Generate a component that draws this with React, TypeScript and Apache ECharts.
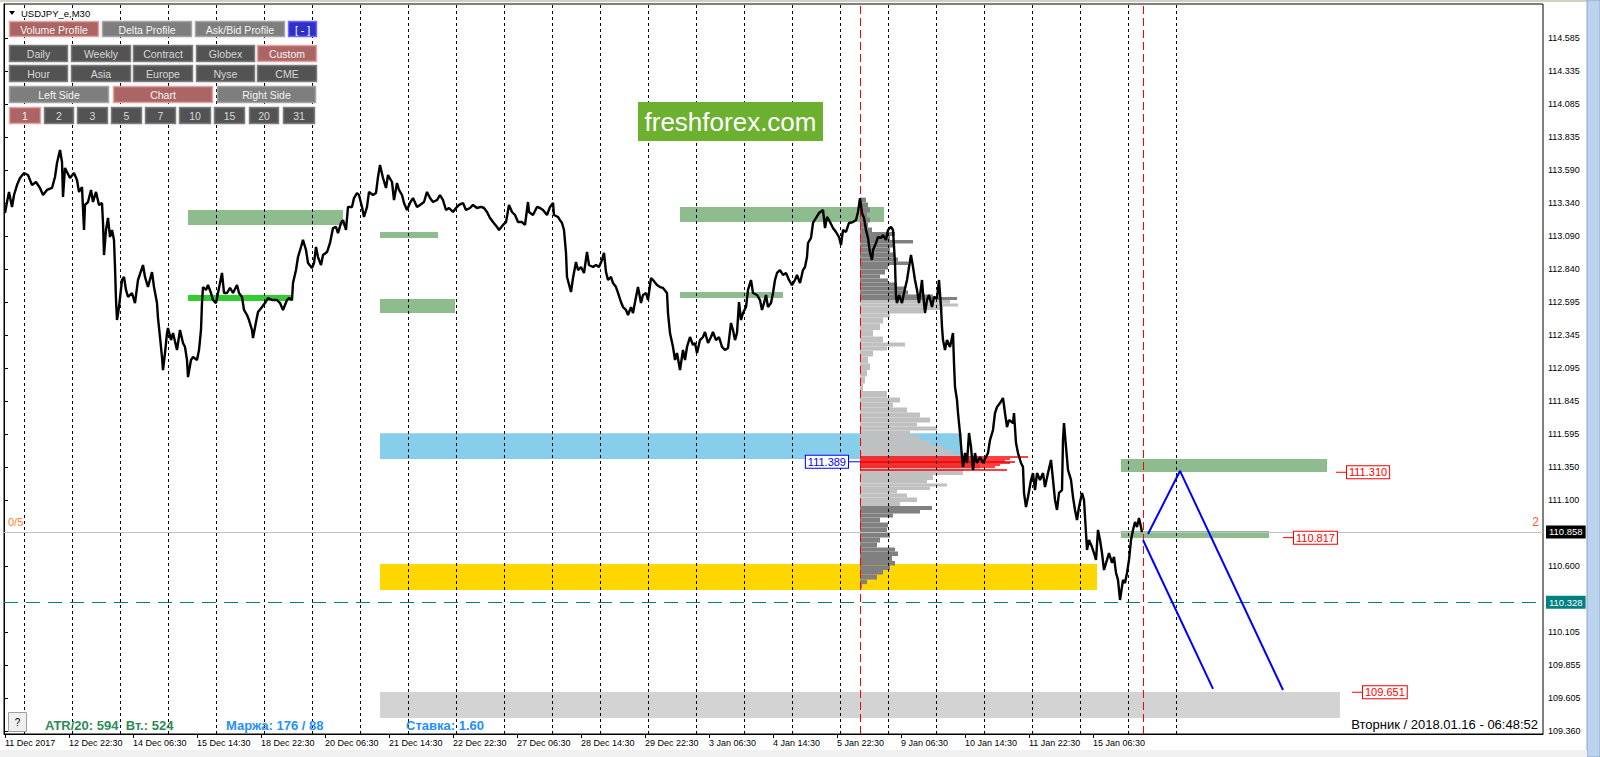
import React, { useEffect, useRef } from 'react';
import * as echarts from 'echarts';

// ---------- data ----------
const xLabels = ['11 Dec 2017', '12 Dec 22:30', '14 Dec 06:30', '15 Dec 14:30', '18 Dec 22:30', '20 Dec 06:30', '21 Dec 14:30', '22 Dec 22:30', '27 Dec 06:30', '28 Dec 14:30', '29 Dec 22:30', '3 Jan 06:30', '4 Jan 14:30', '5 Jan 22:30', '9 Jan 06:30', '10 Jan 14:30', '11 Jan 22:30', '15 Jan 06:30'];
const xLabelBars = [1, 65, 129, 193, 257, 321, 385, 449, 513, 577, 641, 705, 769, 833, 897, 961, 1025, 1089];
const separatorBars = [20, 68, 116, 164, 212, 260, 308, 356, 404, 452, 500, 548, 596, 644, 692, 740, 788, 836, 884, 932, 980, 1028, 1076, 1124, 1172];
const sessionBars = [856, 1139];
const yTicks = [114.585, 114.335, 114.085, 113.835, 113.59, 113.34, 113.09, 112.84, 112.595, 112.345, 112.095, 111.845, 111.595, 111.35, 111.1, 110.6, 110.105, 109.855, 109.605, 109.36];
const yMin = 109.3362;
const yMax = 114.8414;

const priceBars = [1, 3, 5, 8, 10, 13, 16, 20, 24, 28, 32, 36, 39, 43, 48, 51, 53, 56, 58, 59, 61, 66, 70, 73, 75, 78, 79, 80, 81, 84, 87, 89, 92, 95, 98, 99, 100, 102, 104, 106, 108, 110, 111, 112, 113, 115, 118, 120, 122, 124, 128, 131, 134, 139, 141, 144, 148, 150, 153, 154, 156, 158, 159, 161, 163, 164, 167, 169, 173, 176, 179, 181, 183, 184, 187, 189, 193, 195, 197, 198, 199, 202, 204, 207, 209, 212, 214, 216, 218, 220, 223, 226, 229, 233, 235, 238, 240, 243, 245, 248, 249, 252, 254, 258, 261, 264, 268, 273, 276, 279, 283, 285, 288, 289, 292, 294, 297, 299, 302, 304, 308, 310, 312, 314, 317, 319, 323, 326, 329, 332, 334, 337, 339, 342, 344, 348, 350, 353, 355, 358, 360, 363, 365, 369, 372, 374, 376, 379, 382, 384, 388, 390, 393, 395, 398, 400, 403, 406, 409, 413, 416, 420, 423, 426, 429, 433, 436, 439, 442, 445, 449, 452, 455, 459, 462, 466, 469, 473, 477, 480, 483, 486, 489, 493, 495, 499, 502, 505, 508, 511, 514, 518, 521, 524, 525, 529, 533, 536, 539, 543, 546, 549, 550, 554, 556, 558, 560, 562, 563, 567, 569, 572, 574, 577, 580, 583, 585, 589, 592, 595, 598, 600, 602, 604, 607, 609, 612, 614, 617, 619, 622, 624, 627, 629, 632, 634, 637, 639, 642, 644, 647, 649, 653, 656, 659, 663, 664, 666, 669, 671, 673, 676, 679, 681, 683, 686, 689, 691, 693, 696, 699, 701, 704, 707, 709, 712, 715, 718, 721, 724, 727, 729, 731, 733, 735, 737, 739, 742, 744, 747, 749, 753, 756, 758, 760, 762, 764, 767, 769, 771, 773, 776, 779, 782, 785, 788, 791, 793, 796, 799, 801, 803, 804, 807, 809, 812, 815, 819, 821, 823, 825, 829, 832, 835, 837, 839, 842, 845, 849, 852, 854, 856, 858, 860, 862, 864, 866, 868, 869, 872, 874, 877, 879, 882, 884, 887, 889, 891, 892, 893, 895, 898, 900, 903, 905, 907, 909, 911, 913, 915, 918, 919, 921, 923, 925, 928, 930, 933, 935, 937, 938, 939, 941, 943, 946, 949, 950, 951, 953, 954, 956, 958, 959, 961, 963, 965, 967, 969, 971, 973, 976, 979, 982, 984, 986, 989, 991, 993, 996, 999, 1001, 1003, 1005, 1009, 1010, 1012, 1014, 1017, 1019, 1020, 1022, 1024, 1027, 1029, 1031, 1033, 1036, 1039, 1041, 1044, 1047, 1049, 1051, 1053, 1055, 1058, 1059, 1060, 1062, 1064, 1067, 1069, 1071, 1073, 1075, 1078, 1080, 1082, 1083, 1085, 1088, 1090, 1092, 1094, 1096, 1098, 1100, 1103, 1105, 1108, 1110, 1112, 1114, 1116, 1119, 1121, 1123, 1125, 1127, 1129, 1131, 1133, 1135, 1137, 1138];
const priceValues = [113.265, 113.348, 113.424, 113.311, 113.401, 113.476, 113.529, 113.567, 113.552, 113.476, 113.499, 113.454, 113.401, 113.439, 113.454, 113.537, 113.642, 113.74, 113.65, 113.386, 113.605, 113.529, 113.567, 113.514, 113.424, 113.461, 113.3, 113.137, 113.326, 113.348, 113.439, 113.348, 113.424, 113.326, 113.341, 113.19, 112.948, 113.137, 113.228, 113.084, 113.137, 113.062, 112.858, 112.609, 112.458, 112.556, 112.76, 112.783, 112.685, 112.632, 112.662, 112.586, 112.76, 112.873, 112.783, 112.707, 112.82, 112.707, 112.586, 112.473, 112.33, 112.179, 112.081, 112.209, 112.36, 112.398, 112.307, 112.36, 112.232, 112.383, 112.285, 112.255, 112.157, 112.028, 112.157, 112.179, 112.157, 112.232, 112.383, 112.586, 112.707, 112.685, 112.722, 112.662, 112.609, 112.586, 112.662, 112.737, 112.813, 112.662, 112.662, 112.7, 112.662, 112.722, 112.662, 112.632, 112.534, 112.496, 112.458, 112.383, 112.322, 112.443, 112.518, 112.556, 112.586, 112.624, 112.609, 112.609, 112.586, 112.534, 112.609, 112.624, 112.609, 112.737, 112.835, 112.933, 113.009, 113.062, 112.986, 112.888, 112.85, 112.888, 113.009, 112.933, 112.873, 112.948, 112.971, 113.039, 113.152, 113.16, 113.114, 113.19, 113.212, 113.137, 113.311, 113.311, 113.378, 113.416, 113.401, 113.311, 113.235, 113.311, 113.424, 113.401, 113.416, 113.537, 113.627, 113.529, 113.454, 113.552, 113.499, 113.363, 113.491, 113.439, 113.401, 113.341, 113.288, 113.341, 113.378, 113.311, 113.326, 113.348, 113.424, 113.378, 113.348, 113.363, 113.401, 113.363, 113.288, 113.303, 113.273, 113.303, 113.326, 113.341, 113.288, 113.303, 113.326, 113.303, 113.311, 113.303, 113.273, 113.228, 113.197, 113.16, 113.137, 113.175, 113.197, 113.326, 113.273, 113.25, 113.197, 113.197, 113.175, 113.348, 113.273, 113.25, 113.311, 113.303, 113.288, 113.25, 113.311, 113.341, 113.25, 113.235, 113.212, 113.19, 113.137, 112.964, 112.783, 112.669, 112.775, 112.896, 112.835, 112.858, 112.813, 112.971, 112.873, 112.858, 112.873, 112.858, 112.911, 112.964, 112.82, 112.76, 112.783, 112.737, 112.707, 112.662, 112.594, 112.556, 112.534, 112.496, 112.556, 112.511, 112.632, 112.707, 112.586, 112.647, 112.662, 112.609, 112.775, 112.76, 112.722, 112.707, 112.7, 112.662, 112.511, 112.36, 112.255, 112.157, 112.209, 112.081, 112.232, 112.157, 112.255, 112.33, 112.27, 112.285, 112.209, 112.307, 112.33, 112.368, 112.285, 112.33, 112.368, 112.307, 112.33, 112.255, 112.232, 112.247, 112.436, 112.383, 112.307, 112.36, 112.594, 112.458, 112.511, 112.556, 112.685, 112.76, 112.662, 112.647, 112.609, 112.534, 112.586, 112.647, 112.556, 112.586, 112.662, 112.76, 112.813, 112.835, 112.798, 112.813, 112.76, 112.722, 112.76, 112.798, 112.737, 112.835, 112.858, 112.933, 113.039, 113.077, 113.19, 113.228, 113.265, 113.288, 113.152, 113.235, 113.212, 113.152, 113.122, 113.084, 113.024, 113.137, 113.122, 113.19, 113.197, 113.212, 113.273, 113.378, 113.265, 113.228, 113.137, 113.077, 112.964, 112.911, 112.986, 113.039, 113.084, 113.077, 113.099, 113.062, 113.137, 113.16, 113.137, 112.888, 112.632, 112.586, 112.647, 112.586, 112.662, 112.76, 112.858, 112.948, 112.858, 112.76, 112.685, 112.586, 112.76, 112.662, 112.511, 112.609, 112.647, 112.556, 112.632, 112.624, 112.76, 112.556, 112.405, 112.307, 112.232, 112.307, 112.255, 112.36, 112.134, 111.953, 111.855, 111.757, 111.606, 111.425, 111.35, 111.455, 111.38, 111.606, 111.501, 111.327, 111.455, 111.38, 111.425, 111.38, 111.425, 111.455, 111.553, 111.629, 111.757, 111.802, 111.832, 111.87, 111.757, 111.651, 111.704, 111.681, 111.757, 111.531, 111.455, 111.38, 111.35, 111.154, 111.048, 111.123, 111.252, 111.304, 111.176, 111.304, 111.252, 111.304, 111.199, 111.304, 111.403, 111.252, 111.101, 111.026, 111.154, 111.176, 111.553, 111.681, 111.501, 111.327, 111.252, 111.123, 111.026, 110.95, 111.048, 111.154, 111.101, 110.852, 110.724, 110.799, 110.746, 110.701, 110.649, 110.875, 110.799, 110.701, 110.573, 110.649, 110.701, 110.626, 110.671, 110.551, 110.498, 110.347, 110.498, 110.475, 110.551, 110.649, 110.799, 110.875, 110.935, 110.897, 110.965, 110.897, 110.858];

const currentPrice = 110.858;
const supportPrice = 110.328;

const profileStartBar = 856;
const profilePrices = [113.363, 113.326, 113.288, 113.25, 113.212, 113.175, 113.137, 113.107, 113.077, 113.047, 113.024, 112.986, 112.948, 112.911, 112.888, 112.858, 112.82, 112.783, 112.76, 112.722, 112.7, 112.662, 112.639, 112.624, 112.594, 112.571, 112.549, 112.518, 112.496, 112.458, 112.405, 112.36, 112.307, 112.27, 112.247, 112.209, 112.157, 112.104, 112.058, 112.006, 111.953, 111.893, 111.855, 111.817, 111.78, 111.742, 111.704, 111.666, 111.644, 111.606, 111.568, 111.531, 111.493, 111.463, 111.425, 111.387, 111.35, 111.312, 111.267, 111.237, 111.214, 111.191, 111.161, 111.139, 111.101, 111.071, 111.041, 111.01, 110.987, 110.95, 110.912, 110.875, 110.837, 110.799, 110.761, 110.724, 110.701, 110.656, 110.626, 110.588, 110.558, 110.52, 110.482, 110.451];
const profileVolumes = [6, 8, 10, 7, 10, 8, 12, 35, 30, 53, 33, 30, 35, 38, 48, 28, 25, 20, 28, 37, 45, 48, 73, 97, 90, 98, 83, 63, 30, 23, 20, 13, 23, 45, 27, 13, 8, 10, 7, 5, 3, 27, 40, 33, 47, 60, 70, 57, 77, 50, 60, 70, 83, 93, 103, 115, 120, 103, 73, 67, 87, 70, 37, 47, 57, 40, 72, 60, 33, 20, 28, 27, 30, 20, 17, 35, 38, 32, 35, 30, 23, 17, 7, 2];
const valueAreaHigh = 112.602;
const valueAreaLow = 111.048;
const pocPrices = [111.425, 111.41, 111.395, 111.387, 111.38, 111.365, 111.35, 111.327];
const pocVolumes = [168, 150, 145, 155, 150, 140, 135, 147];
const pocLabelPrice = 111.389;

const greenZoneStart = [184, 376, 376, 676, 676, 1117, 1117];
const greenZoneEnd = [339, 434, 451, 880, 779, 1323, 1265];
const greenZoneTop = [113.288, 113.122, 112.617, 113.311, 112.669, 111.41, 110.867];
const greenZoneBottom = [113.175, 113.077, 112.511, 113.197, 112.624, 111.312, 110.814];
const limeZone = [184, 289, 112.647, 112.602];
const blueZone = [376, 958, 111.605, 111.41];
const goldZone = [376, 1093, 110.618, 110.422];
const grayZone = [376, 1336, 109.653, 109.457];

const projABars = [1144, 1176, 1279];
const projAPrices = [110.844, 111.32, 109.668];
const projBBars = [1139, 1209];
const projBPrices = [110.799, 109.676];

const tagBars = [1332, 1279, 1348];
const tagPrices = [111.31, 110.817, 109.651];

// ---------- UI layout ----------
const FONT = 'Liberation Sans, Arial, sans-serif';
type Btn = [string, number, number, number, number, string];
const buttons: Btn[] = [
  ['Volume Profile', 9, 21, 99, 37, 'on'], ['Delta Profile', 102, 21, 192, 37, 'gray'], ['Ask/Bid Profile', 195, 21, 285, 37, 'gray'], ['[ - ]', 288, 21, 317, 37, 'blue'],
  ['Daily', 9, 45, 68, 62, 'dark'], ['Weekly', 71, 45, 131, 62, 'dark'], ['Contract', 133, 45, 193, 62, 'dark'], ['Globex', 196, 45, 255, 62, 'dark'], ['Custom', 257, 45, 317, 62, 'on'],
  ['Hour', 9, 65, 68, 82, 'dark'], ['Asia', 71, 65, 131, 82, 'dark'], ['Europe', 133, 65, 193, 82, 'dark'], ['Nyse', 196, 65, 255, 82, 'dark'], ['CME', 257, 65, 317, 82, 'dark'],
  ['Left Side', 9, 86, 109, 103, 'gray'], ['Chart', 113, 86, 213, 103, 'on'], ['Right Side', 217, 86, 316, 103, 'gray'],
  ['1', 9, 107, 41, 124, 'on'], ['2', 44, 107, 74, 124, 'dark'], ['3', 77, 107, 108, 124, 'dark'], ['5', 111, 107, 142, 124, 'dark'], ['7', 145, 107, 176, 124, 'dark'], ['10', 179, 107, 211, 124, 'dark'], ['15', 214, 107, 245, 124, 'dark'], ['20', 249, 107, 279, 124, 'dark'], ['31', 283, 107, 315, 124, 'dark'],
];
const btnStyle: Record<string, { fill: string; stroke: string; text: string }> = {
  on: { fill: '#ab6565', stroke: '#e3a3a3', text: '#f4f4f4' },
  gray: { fill: '#7e7e7e', stroke: '#a4a4a4', text: '#f4f4f4' },
  dark: { fill: '#535353', stroke: '#7c7c7c', text: '#d8d8d8' },
  blue: { fill: '#3030c8', stroke: '#6a6aff', text: '#ffffff' },
};

function zoneArea(s: number, e: number, top: number, bottom: number, color: string) {
  return [{ xAxis: s, yAxis: top, itemStyle: { color } }, { xAxis: e, yAxis: bottom }];
}

function buildOption(): any {
  const zoneData: any[] = [];
  zoneData.push(zoneArea(grayZone[0], grayZone[1], grayZone[2], grayZone[3], '#d3d3d3'));
  zoneData.push(zoneArea(goldZone[0], goldZone[1], goldZone[2], goldZone[3], '#ffd700'));
  zoneData.push(zoneArea(blueZone[0], blueZone[1], blueZone[2], blueZone[3], '#87ceeb'));
  greenZoneStart.forEach((s, k) => zoneData.push(zoneArea(s, greenZoneEnd[k], greenZoneTop[k], greenZoneBottom[k], '#8fbc8f')));
  zoneData.push(zoneArea(limeZone[0], limeZone[1], limeZone[2], limeZone[3], '#32cd32'));

  const n = profilePrices.length;
  const profileData = profilePrices.map((p, k) => {
    const up = k === 0 ? p + (p - profilePrices[1]) / 2 : (p + profilePrices[k - 1]) / 2;
    const dn = k === n - 1 ? p - (profilePrices[k - 1] - p) / 2 : (p + profilePrices[k + 1]) / 2;
    return [profileStartBar, p, profileVolumes[k], up, dn];
  });

  const Z = 100;
  const graphics: any[] = [];
  // window chrome
  graphics.push({ type: 'rect', z: Z, shape: { x: 0, y: 0, width: 1600, height: 2 }, style: { fill: '#d4d0c8' }, silent: true });
  graphics.push({ type: 'rect', z: Z, shape: { x: 1587, y: 0, width: 13, height: 757 }, style: { fill: '#bcd3ee', stroke: '#8aa6c8', lineWidth: 1 }, silent: true });
  graphics.push({ type: 'rect', z: Z, shape: { x: 0, y: 750, width: 1587, height: 7 }, style: { fill: '#f0f0f0' }, silent: true });
  // title
  graphics.push({ type: 'polygon', z: Z, shape: { points: [[9, 11], [15, 11], [12, 15]] }, style: { fill: '#000' }, silent: true });
  graphics.push({ type: 'text', z: Z, x: 20, y: 13, style: { text: 'USDJPY_e,M30', font: `9.5px ${FONT}`, fill: '#000', verticalAlign: 'middle', backgroundColor: '#fff', padding: [0, 1] }, silent: true });
  // buttons
  buttons.forEach(([label, x0, y0, x1, y1, kind]) => {
    const st = btnStyle[kind];
    graphics.push({ type: 'rect', z: Z, shape: { x: x0 + 0.5, y: y0 + 0.5, width: x1 - x0 - 1, height: y1 - y0 - 1 }, style: { fill: st.fill, stroke: st.stroke, lineWidth: 1.5 }, silent: true });
    graphics.push({ type: 'text', z: Z + 1, x: (x0 + x1) / 2, y: (y0 + y1) / 2 + 0.5, style: { text: label, font: `10.5px ${FONT}`, fill: st.text, align: 'center', verticalAlign: 'middle' }, silent: true });
  });
  // logo
  graphics.push({ type: 'rect', z: Z, shape: { x: 638, y: 102, width: 185, height: 39 }, style: { fill: '#6cb02f' }, silent: true });
  graphics.push({ type: 'text', z: Z + 1, x: 730.5, y: 122, style: { text: 'freshforex.com', font: `26px ${FONT}`, fill: '#ffffff', align: 'center', verticalAlign: 'middle' }, silent: true });
  // help button
  graphics.push({ type: 'rect', z: Z, shape: { x: 8.5, y: 712.5, width: 18, height: 19 }, style: { fill: '#f0f0f0', stroke: '#a0a0a0', lineWidth: 1 }, silent: true });
  graphics.push({ type: 'text', z: Z + 1, x: 17.5, y: 722, style: { text: '?', font: `10px ${FONT}`, fill: '#000', align: 'center', verticalAlign: 'middle' }, silent: true });
  // bottom info texts
  graphics.push({ type: 'text', z: Z, x: 45, y: 725, style: { text: 'ATR/20: 594  Вт.: 524', font: `bold 13px ${FONT}`, fill: '#2e8b57', verticalAlign: 'middle' }, silent: true });
  graphics.push({ type: 'text', z: Z, x: 226, y: 725, style: { text: 'Маржа: 176 / 88', font: `bold 13px ${FONT}`, fill: '#1e90ff', verticalAlign: 'middle' }, silent: true });
  graphics.push({ type: 'text', z: Z, x: 406, y: 725, style: { text: 'Ставка: 1.60', font: `bold 13px ${FONT}`, fill: '#1e90ff', verticalAlign: 'middle' }, silent: true });
  graphics.push({ type: 'text', z: Z, x: 1538, y: 724, style: { text: 'Вторник / 2018.01.16 - 06:48:52', font: `13px ${FONT}`, fill: '#000', align: 'right', verticalAlign: 'middle', backgroundColor: '#fff', padding: [1, 0] }, silent: true });

  const hidden = { color: 'rgba(0,0,0,0)', width: 0 };

  return {
    animation: false,
    backgroundColor: '#ffffff',
    textStyle: { fontFamily: FONT },
    grid: { left: 4, top: 4, width: 1539, height: 730, show: true, borderColor: '#000', borderWidth: 1, backgroundColor: '#fff' },
    xAxis: {
      type: 'value', min: 0, max: 1539,
      axisLine: { show: true, onZero: false, lineStyle: { color: '#000', width: 1 } },
      axisTick: { show: true, customValues: xLabelBars, length: 4, lineStyle: { color: '#000' } },
      axisLabel: { customValues: xLabelBars, formatter: (v: number) => xLabels[xLabelBars.indexOf(v)] ?? '', align: 'left', color: '#000', fontSize: 9, margin: 4 },
      splitLine: { show: false },
    },
    yAxis: {
      type: 'value', position: 'right', min: yMin, max: yMax, scale: true,
      axisLine: { show: true, lineStyle: { color: '#000', width: 1 } },
      axisTick: { show: true, customValues: yTicks, length: 4, lineStyle: { color: '#000' } },
      axisLabel: { customValues: yTicks, formatter: (v: number) => v.toFixed(3), color: '#000', fontSize: 9, margin: 5 },
      splitLine: { show: false },
    },
    graphic: { elements: graphics },
    series: [
      {
        name: 'zones', type: 'line', data: [], z: 1, silent: true,
        markArea: { silent: true, data: zoneData },
      },
      {
        name: 'separators', type: 'line', data: [], z: 2, silent: true,
        markLine: {
          silent: true, symbol: ['none', 'none'], label: { show: false },
          lineStyle: { color: '#000', type: [3, 3], width: 1 },
          data: separatorBars.map((b) => ({ xAxis: b })),
        },
      },
      {
        name: 'sessions', type: 'line', data: [], z: 2, silent: true,
        markLine: {
          silent: true, symbol: ['none', 'none'], label: { show: false },
          lineStyle: { color: '#ff0000', type: [8, 4], width: 1 },
          data: sessionBars.map((b) => ({ xAxis: b })),
        },
      },
      {
        name: 'levels', type: 'line', data: [], z: 2, silent: true,
        markLine: {
          silent: true, symbol: ['none', 'none'],
          data: [
            { yAxis: currentPrice, lineStyle: { color: '#c0c0c0', type: 'solid', width: 1.2 }, label: { show: true, position: 'end', distance: 3, formatter: currentPrice.toFixed(3), backgroundColor: '#000', color: '#fff', padding: [2, 3, 1, 3], fontSize: 9.5, fontFamily: FONT } },
            { yAxis: currentPrice, lineStyle: hidden, label: { show: true, position: 'insideStartTop', distance: 4, formatter: '0/5', color: '#ff7f27', fontSize: 11, fontFamily: FONT } },
            { yAxis: currentPrice, lineStyle: hidden, label: { show: true, position: 'insideEndTop', distance: 4, formatter: '2', color: '#ff5a1e', fontSize: 12, fontFamily: FONT } },
            { yAxis: supportPrice, lineStyle: { color: '#008080', type: [14, 8], width: 1.2 }, label: { show: true, position: 'end', distance: 3, formatter: supportPrice.toFixed(3), backgroundColor: '#008080', color: '#fff', padding: [2, 3, 1, 3], fontSize: 9.5, fontFamily: FONT } },
          ],
        },
      },
      {
        name: 'profile', type: 'custom', z: 3, silent: true,
        data: profileData,
        encode: { x: 0, y: 1 },
        renderItem: (params: any, api: any) => {
          const p = api.value(1);
          const a = api.coord([api.value(0), api.value(3)]);
          const b = api.coord([api.value(0) + api.value(2), api.value(4)]);
          const inside = p <= valueAreaHigh && p >= valueAreaLow;
          return { type: 'rect', shape: { x: a[0], y: a[1], width: b[0] - a[0], height: b[1] - a[1] }, style: { fill: inside ? '#c0c0c0' : '#808080' } };
        },
      },
      {
        name: 'poc', type: 'custom', z: 3, silent: true,
        data: pocPrices.map((p, k) => [profileStartBar, p, pocVolumes[k]]),
        encode: { x: 0, y: 1 },
        renderItem: (params: any, api: any) => {
          const a = api.coord([api.value(0), api.value(1)]);
          const b = api.coord([api.value(0) + api.value(2), api.value(1)]);
          return { type: 'line', shape: { x1: a[0], y1: a[1], x2: b[0], y2: b[1] }, style: { stroke: '#ff0000', lineWidth: 1.4 } };
        },
      },
      {
        name: 'price', type: 'line', z: 5, silent: true,
        data: priceBars.map((b, k) => [b, priceValues[k]]),
        showSymbol: false, symbol: 'none',
        lineStyle: { color: '#000', width: 2.4 },
      },
      {
        name: 'projA', type: 'line', z: 6, silent: true,
        data: projABars.map((b, k) => [b, projAPrices[k]]),
        showSymbol: false, symbol: 'none', lineStyle: { color: '#0000ff', width: 2 },
      },
      {
        name: 'projB', type: 'line', z: 6, silent: true,
        data: projBBars.map((b, k) => [b, projBPrices[k]]),
        showSymbol: false, symbol: 'none', lineStyle: { color: '#0000ff', width: 2 },
      },
      {
        name: 'tags', type: 'custom', z: 7, silent: true,
        data: tagBars.map((b, k) => [b, tagPrices[k]]),
        encode: { x: 0, y: 1 },
        renderItem: (params: any, api: any) => {
          const c = api.coord([api.value(0), api.value(1)]);
          return {
            type: 'group', children: [
              { type: 'line', shape: { x1: c[0], y1: c[1], x2: c[0] + 11, y2: c[1] }, style: { stroke: '#ff0000', lineWidth: 1 } },
              { type: 'text', x: c[0] + 11, y: c[1], style: { text: tagPrices[params.dataIndex].toFixed(3), fill: '#ff0000', font: `11px ${FONT}`, align: 'left', verticalAlign: 'middle', backgroundColor: '#fff', borderColor: '#ff0000', borderWidth: 1, padding: [1, 2, 0, 2] } },
            ],
          };
        },
      },
      {
        name: 'pocLabel', type: 'custom', z: 7, silent: true,
        data: [[profileStartBar, pocLabelPrice]],
        encode: { x: 0, y: 1 },
        renderItem: (params: any, api: any) => {
          const c = api.coord([api.value(0), api.value(1)]);
          return {
            type: 'group', children: [
              { type: 'line', shape: { x1: c[0] - 12, y1: c[1], x2: c[0], y2: c[1] }, style: { stroke: '#0000ff', lineWidth: 1 } },
              { type: 'text', x: c[0] - 12, y: c[1], style: { text: pocLabelPrice.toFixed(3), fill: '#0000ff', font: `11px ${FONT}`, align: 'right', verticalAlign: 'middle', backgroundColor: '#fff', borderColor: '#0000ff', borderWidth: 1, padding: [1, 2, 0, 2] } },
            ],
          };
        },
      },
    ],
  };
}

export default function App() {
  const ref = useRef<HTMLDivElement>(null);
  useEffect(() => {
    if (!ref.current) return;
    const chart = echarts.init(ref.current, undefined, { renderer: 'svg' });
    chart.setOption(buildOption());
    return () => chart.dispose();
  }, []);
  return <div ref={ref} style={{ position: 'absolute', left: 0, top: 0, width: 1600, height: 757 }} />;
}
